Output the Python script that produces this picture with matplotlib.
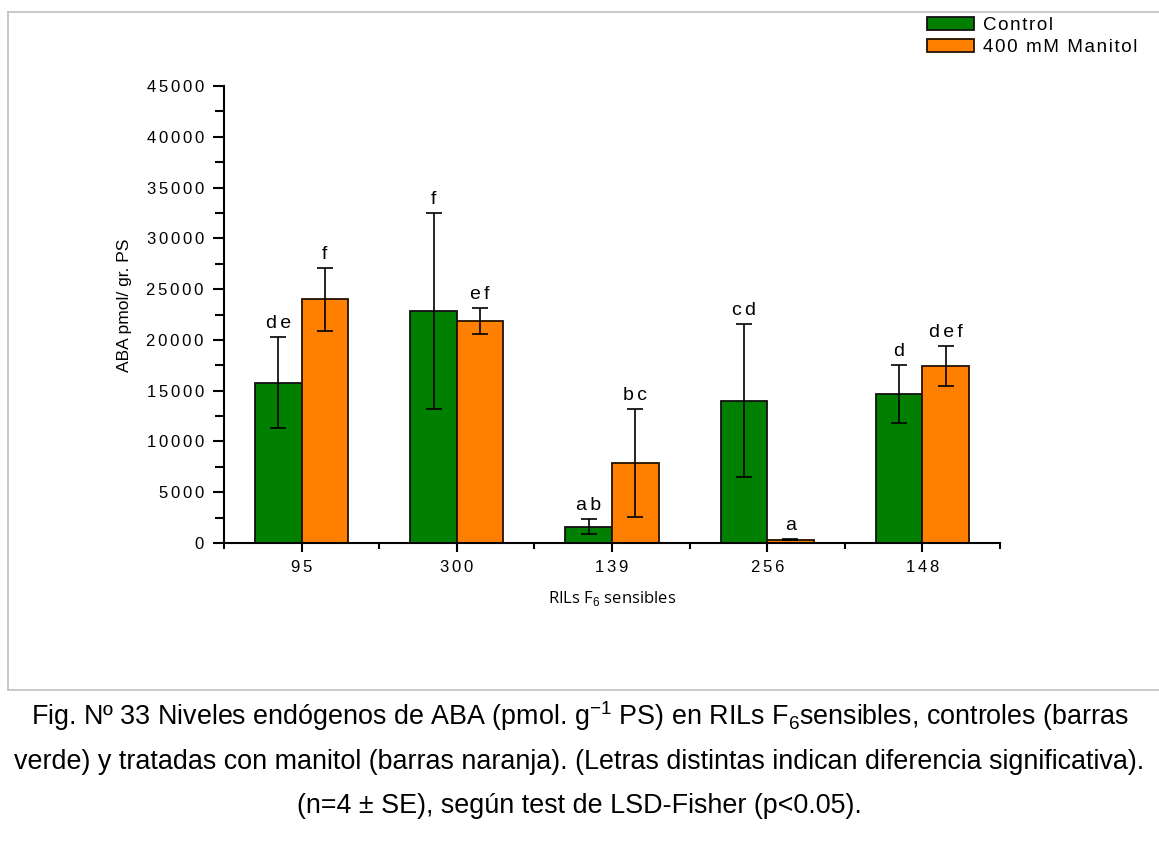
import matplotlib
matplotlib.use('Agg')
import matplotlib.pyplot as plt
import numpy as np
from matplotlib.lines import Line2D

plt.rcParams['font.family'] = ['Liberation Sans', 'DejaVu Sans']
plt.rcParams['mathtext.fontset'] = 'custom'
plt.rcParams['mathtext.rm'] = 'Liberation Sans'

lines = ['95', '300', '139', '256', '148']
control = [15800, 22800, 1600, 14000, 14700]
control_err = [4500, 9650, 750, 7550, 2850]
manitol = [24000, 21850, 7900, 300, 17400]
manitol_err = [3100, 1250, 5300, 50, 1950]
control_letters = ['de', 'f', 'ab', 'cd', 'd']
manitol_letters = ['f', 'ef', 'bc', 'a', 'def']

green = '#007f00'
orange = '#ff8000'

HAIR = '\u200a'


def spaced(s, n=1):
    # Origin style letter spacing
    return (HAIR * n).join(list(s))


fig = plt.figure(figsize=(11.59, 8.5), dpi=100)
ax = fig.add_axes([224 / 1159, 307 / 850, (1000 - 224) / 1159, (543 - 86) / 850])

xs = np.arange(len(lines))
w = 0.3
ax.bar(xs - w / 2, control, w, color=green, edgecolor='#111111', linewidth=1.3, label=spaced('Control'))
ax.bar(xs + w / 2, manitol, w, color=orange, edgecolor='#221100', linewidth=1.3, label=spaced('400 mM Manitol'))
ax.errorbar(xs - w / 2, control, yerr=control_err, fmt='none', ecolor='black', elinewidth=1.2, capsize=6, capthick=1.2)
ax.errorbar(xs + w / 2, manitol, yerr=manitol_err, fmt='none', ecolor='black', elinewidth=1.2, capsize=6, capthick=1.2)

for i in range(len(lines)):
    ax.text(xs[i] - w / 2, control[i] + control_err[i] + 500, spaced(control_letters[i], 2),
            ha='center', va='bottom', fontsize=14)
    ax.text(xs[i] + w / 2, manitol[i] + manitol_err[i] + 500, spaced(manitol_letters[i], 2),
            ha='center', va='bottom', fontsize=14)

ax.set_xlim(-0.5, 4.5)
ax.set_ylim(0, 45000)
yt = np.arange(0, 45001, 5000)
ax.set_yticks(yt)
ax.set_yticklabels([spaced(str(v), 2) for v in yt])
ax.set_yticks(np.arange(2500, 45000, 5000), minor=True)
ax.set_xticks(xs)
ax.set_xticklabels([spaced(s, 2) for s in lines])
ax.set_xticks(np.arange(-0.5, 4.6, 1.0), minor=True)
ax.spines['top'].set_visible(False)
ax.spines['right'].set_visible(False)
ax.spines['left'].set_linewidth(1.5)
ax.spines['bottom'].set_linewidth(1.5)
ax.tick_params(axis='both', which='both', direction='out', width=1.5, labelsize=12)
ax.tick_params(axis='y', which='major', length=8, pad=6.5)
ax.tick_params(axis='y', which='minor', length=6.5)
ax.tick_params(axis='x', which='major', length=6.5, pad=5.5)
ax.tick_params(axis='x', which='minor', length=4)

fig.text(125 / 1159, 1 - 305 / 850, 'ABA pmol/ gr. PS', rotation=90, ha='center', va='center', fontsize=12.5)
fig.text(612 / 1159, 1 - 598 / 850, r'RILs F$_6$ sensibles', ha='center', va='center', fontsize=12,
         family=['Open Sans', 'DejaVu Sans'])

fig.legend(loc='upper left', bbox_to_anchor=(927 / 1159, 1 - 17 / 850), frameon=False, fontsize=13.5,
           borderpad=0, borderaxespad=0, handlelength=2.5, handleheight=0.64, labelspacing=0.28,
           handletextpad=0.48)

# frame lines around the figure area
fig.add_artist(Line2D([8 / 1159, 1], [1 - 12 / 850, 1 - 12 / 850], color='#c0c0c0', lw=1.2))
fig.add_artist(Line2D([8 / 1159, 8 / 1159], [1 - 12 / 850, 1 - 690 / 850], color='#c0c0c0', lw=1.2))
fig.add_artist(Line2D([8 / 1159, 1], [1 - 690 / 850, 1 - 690 / 850], color='#c0c0c0', lw=1.2))

caption = ['Fig. Nº 33 Niveles endógenos de ABA (pmol. g$^{-1}$ PS) en RILs F$_6$sensibles, controles (barras',
           'verde) y tratadas con manitol (barras naranja). (Letras distintas indican diferencia significativa).',
           '(n=4 ± SE), según test de LSD-Fisher (p<0.05).']
for txt, yy in zip(caption, [716, 762, 806]):
    fig.text(0.5, 1 - yy / 850, txt, ha='center', va='center', fontsize=19.4)

fig.savefig('out.png', dpi=100)
